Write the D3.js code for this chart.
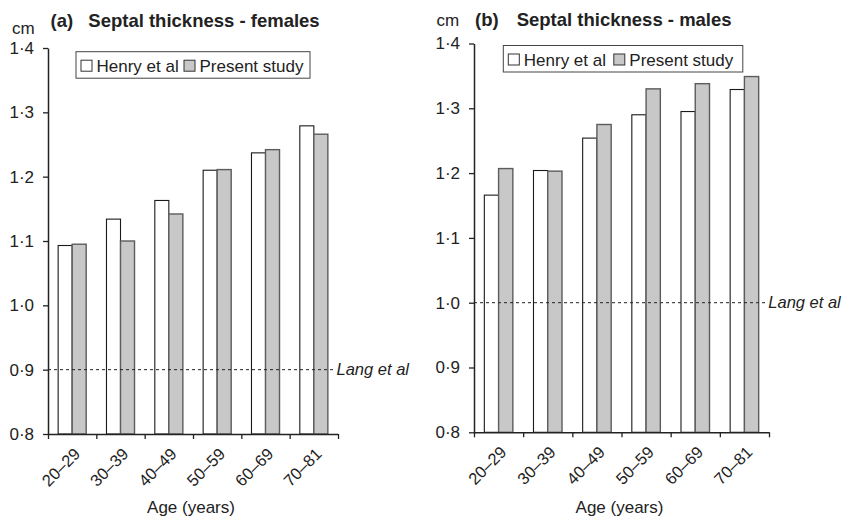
<!DOCTYPE html>
<html>
<head>
<meta charset="utf-8">
<script src="https://cdn.jsdelivr.net/npm/d3@7"></script>
<style>
  html, body { margin: 0; padding: 0; background: #fff; }
  svg { display: block; font-family: "Liberation Sans", Arial, Helvetica, sans-serif; }
</style>
</head>
<body>
<svg id="chart" width="846" height="519"></svg>
<script>
// ---- data ----
const categories = ["20–29", "30–39", "40–49", "50–59", "60–69", "70–81"];
const seriesNames = ["Henry et al", "Present study"];
const femalesHenry   = [1.093, 1.134, 1.163, 1.210, 1.237, 1.279];
const femalesPresent = [1.095, 1.100, 1.142, 1.211, 1.242, 1.266];
const malesHenry     = [1.166, 1.204, 1.254, 1.290, 1.295, 1.329];
const malesPresent   = [1.207, 1.203, 1.275, 1.330, 1.338, 1.349];
const yTicks = [0.8, 0.9, 1.0, 1.1, 1.2, 1.3, 1.4];
const femalesLang = 0.9;
const malesLang = 1.0;

const svg = d3.select("#chart");
const fills = {"Henry et al": "#ffffff", "Present study": "#c8c8c9"};
const strokes = {"Henry et al": "#1a1a1a", "Present study": "#5c5c5c"};
const fmt = v => d3.format(".1f")(v).replace(".", "·");

function panel(cfg) {
  const g = svg.append("g");
  const x = d3.scaleBand().domain(categories).range([cfg.x0, cfg.x1]).padding(0);
  const bw = x.bandwidth();
  const xi = d3.scaleBand().domain(seriesNames).range([bw * 0.21, bw * 0.79]).padding(0);
  const y = d3.scaleLinear().domain([0.8, 1.4]).range([cfg.yb, cfg.yt]);

  // bars
  const rows = categories.map((c, i) => ({cat: c, vals: [
    {s: seriesNames[0], v: cfg.henry[i]}, {s: seriesNames[1], v: cfg.present[i]}]}));
  const grp = g.selectAll("g.grp").data(rows).join("g")
    .attr("transform", d => `translate(${x(d.cat)},0)`);
  grp.selectAll("rect").data(d => d.vals).join("rect")
    .attr("x", d => xi(d.s))
    .attr("width", xi.bandwidth())
    .attr("y", d => y(d.v))
    .attr("height", d => y(0.8) - y(d.v))
    .attr("fill", d => fills[d.s])
    .attr("stroke", d => strokes[d.s])
    .attr("stroke-width", d => d.s === seriesNames[1] ? 1.4 : 1.1);

  // reference line
  g.append("line")
    .attr("x1", cfg.x0).attr("x2", cfg.x1 - 4)
    .attr("y1", y(cfg.lang)).attr("y2", y(cfg.lang))
    .attr("stroke", "#222").attr("stroke-width", 1).attr("stroke-dasharray", "3,3");
  g.append("text").attr("x", cfg.langX).attr("y", y(cfg.lang) + 5)
    .attr("font-size", 16.5).attr("font-style", "italic").attr("fill", "#222")
    .text("Lang et al");

  // y axis
  const ya = g.append("g").attr("transform", `translate(${cfg.x0},0)`)
    .call(d3.axisLeft(y).tickValues(yTicks).tickFormat(fmt).tickSize(5).tickSizeOuter(0).tickPadding(9));
  ya.select(".domain").attr("stroke", "#222").attr("stroke-width", 1.5);
  ya.selectAll(".tick line").attr("stroke", "#222").attr("stroke-width", 1.3);
  ya.selectAll(".tick text").attr("font-size", 17).attr("fill", "#222")
    .attr("font-family", "Liberation Sans, Arial, sans-serif");

  // x axis: ticks at category boundaries
  const edges = d3.range(categories.length + 1).map(i => cfg.x0 + i * bw);
  const xl = d3.scaleLinear().domain([cfg.x0, cfg.x1]).range([cfg.x0, cfg.x1]);
  const xa = g.append("g").attr("transform", `translate(0,${cfg.yb})`)
    .call(d3.axisBottom(xl).tickValues(edges).tickFormat("").tickSize(5).tickSizeOuter(0));
  xa.select(".domain").attr("stroke", "#222").attr("stroke-width", 1.5);
  xa.selectAll(".tick line").attr("stroke", "#222").attr("stroke-width", 1.3);

  g.selectAll("text.xl").data(categories).join("text")
    .attr("class", "xl")
    .attr("transform", d => `translate(${x(d) + bw / 2 + 9},${cfg.yb + 21}) rotate(-45)`)
    .attr("text-anchor", "end")
    .attr("font-size", 16.5).attr("fill", "#222")
    .text(d => d);

  g.append("text").attr("x", (cfg.x0 + cfg.x1) / 2 - 2).attr("y", 513)
    .attr("text-anchor", "middle").attr("font-size", 17).attr("fill", "#222")
    .text("Age (years)");

  // unit + title
  g.append("text").attr("x", cfg.cmX).attr("y", cfg.cmY)
    .attr("font-size", 17).attr("fill", "#222").text("cm");
  g.append("text").attr("x", cfg.tagX).attr("y", cfg.titleY)
    .attr("font-size", 18.5).attr("font-weight", "bold").attr("fill", "#222").text(cfg.tag);
  g.append("text").attr("x", cfg.titleX).attr("y", cfg.titleY)
    .attr("font-size", 18.5).attr("font-weight", "bold").attr("fill", "#222").text(cfg.title);

  // legend
  const lg = g.append("g").attr("transform", `translate(${cfg.legX},${cfg.legY})`);
  lg.append("rect").attr("x", 0).attr("y", 0).attr("width", cfg.legW).attr("height", 26.5)
    .attr("fill", "#fff").attr("stroke", "#444").attr("stroke-width", 1);
  const items = [{s: seriesNames[0], dx: 5}, {s: seriesNames[1], dx: cfg.leg2}];
  items.forEach(it => {
    lg.append("rect").attr("x", it.dx).attr("y", 8.5).attr("width", 11).attr("height", 11)
      .attr("fill", fills[it.s]).attr("stroke", "#333").attr("stroke-width", 1);
    lg.append("text").attr("x", it.dx + 15.5).attr("y", 20)
      .attr("font-size", 17).attr("fill", "#222").text(it.s);
  });
}

panel({
  x0: 48, x1: 338, yb: 434, yt: 48,
  henry: femalesHenry, present: femalesPresent, lang: femalesLang, langX: 336.5,
  cmX: 12, cmY: 34, tag: "(a)", tagX: 50.5, title: "Septal thickness - females", titleX: 88.3, titleY: 27,
  legX: 76, legY: 51.7, legW: 234, leg2: 108
});
panel({
  x0: 474, x1: 769, yb: 432.3, yt: 43.5,
  henry: malesHenry, present: malesPresent, lang: malesLang, langX: 768.3,
  cmX: 436.5, cmY: 26, tag: "(b)", tagX: 475, title: "Septal thickness - males", titleX: 516.7, titleY: 26,
  legX: 503.3, legY: 45.5, legW: 239.5, leg2: 110.5
});
</script>
</body>
</html>
